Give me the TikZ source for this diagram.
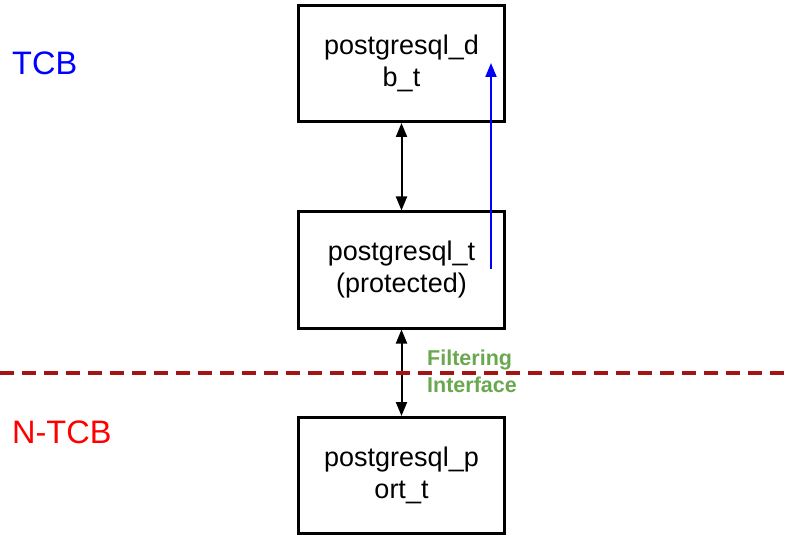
\documentclass[tikz,border=0pt]{standalone}
\usepackage{fontspec}
\setmainfont{Liberation Sans}
\usetikzlibrary{arrows.meta}
\definecolor{sepred}{RGB}{165,20,20}
\definecolor{filtgreen}{RGB}{106,168,79}
\begin{document}
\begin{tikzpicture}[x=1pt,y=-1pt,
  typebox/.style={draw=black,line width=3pt,minimum width=206pt,minimum height=116pt,
    align=center,font=\fontsize{27}{32}\selectfont,inner sep=0pt},
  flow/.style={line width=2pt,{Triangle[length=14pt,width=11pt]}-{Triangle[length=14pt,width=11pt]}},
  zonelabel/.style={anchor=west,inner sep=0pt,font=\fontsize{32.5}{38}\selectfont}]
\useasboundingbox (0,0) rectangle (792,537);
\node[typebox] (db) at (401.5,63.5) {postgresql\_d\\b\_t};
\node[typebox] (pg) at (401.5,270) {postgresql\_t\\(protected)};
\node[typebox] (port) at (401.5,475.5) {postgresql\_p\\ort\_t};
\draw[flow] (db.south) -- (pg.north);
\draw[flow] (pg.south) -- (port.north);
\coordinate (bs) at (491,269);
\coordinate (be) at (491,63);
\draw[blue,line width=2pt,-{Triangle[length=14pt,width=11pt]}] (bs) -- (be);
\coordinate (dl) at (0,373);
\coordinate (dr) at (792,373);
\draw[sepred,line width=3.5pt,dash pattern=on 14pt off 8pt] (dl) -- (dr);
\node[zonelabel,text=blue] (tcb) at (12,63) {TCB};
\node[zonelabel,text=red] (ntcb) at (12,432) {N-TCB};
\node[anchor=north west,inner sep=0pt,align=left,text=filtgreen,
  font=\bfseries\fontsize{21.5}{27}\selectfont] (fi) at (427,350) {Filtering\\Interface};
\end{tikzpicture}
\end{document}
